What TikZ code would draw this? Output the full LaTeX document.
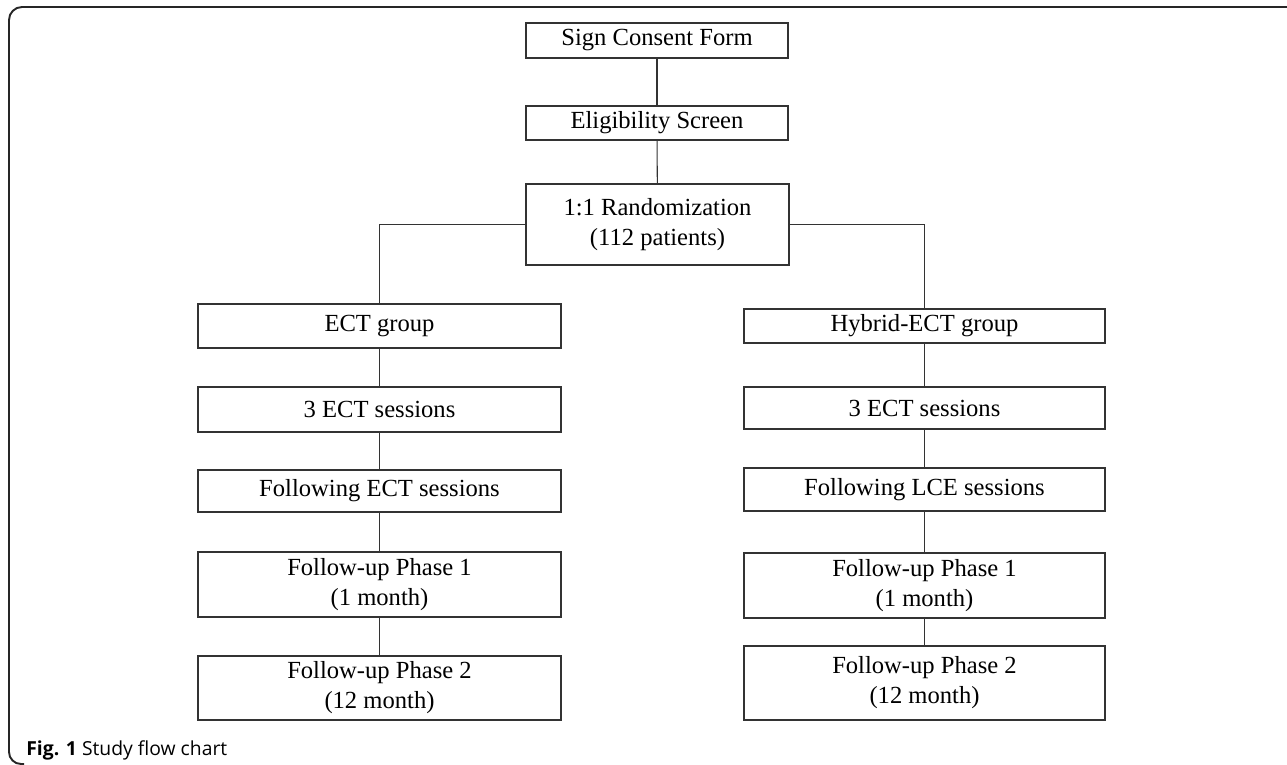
\documentclass[tikz,border=0pt]{standalone}
\usepackage{fontspec}
\setmainfont{Liberation Serif}
\newfontfamily\capfont{Open Sans}
\tikzset{
    flowbox/.style={draw=black!80, line width=0.6pt, align=center, inner sep=0pt,
        font=\fontsize{14}{17}\selectfont},
    leftbox/.style={flowbox, minimum width=363\pxu, minimum height=#1\pxu},
    rightbox/.style={flowbox, minimum width=361\pxu, minimum height=#1\pxu},
    link/.style={black!80, line width=0.6pt}
}
\newlength{\pxu}
\setlength{\pxu}{0.02cm}
\begin{document}
\begin{tikzpicture}[x=0.02cm, y=-0.02cm]
    \useasboundingbox (0,0) rectangle (1287,764);

    % outer frame
    \draw[black!85, line width=1.1pt] (1290,7) -- (22,7) arc (270:180:13) -- (9,752) arc (180:90:12) -- (24,764);

    \node[flowbox, minimum width=262\pxu, minimum height=35\pxu] (consent) at (657,40.5) {Sign Consent Form};
    \node[flowbox, minimum width=262\pxu, minimum height=34\pxu] (elig) at (657,123) {Eligibility Screen};
    \node[flowbox, minimum width=263\pxu, minimum height=81\pxu] (rand) at (657.5,224.5) {1:1 Randomization\\(112 patients)};

    \node[leftbox=44] (ectgrp) at (379.5,326) {ECT group};
    \node[leftbox=45] (ectthree) at (379.5,409.5) {3 ECT sessions};
    \node[leftbox=42] (ectfollow) at (379.5,491) {Following ECT sessions};
    \node[leftbox=65] (ectfuone) at (379.5,584.5) {Follow-up Phase 1\\(1 month)};
    \node[leftbox=64] (ectfutwo) at (379.5,688) {Follow-up Phase 2\\(12 month)};

    \node[rightbox=34] (hybgrp) at (924.5,326) {Hybrid-ECT group};
    \node[rightbox=42] (hybthree) at (924.5,408) {3 ECT sessions};
    \node[rightbox=43] (hybfollow) at (924.5,489.5) {Following LCE sessions};
    \node[rightbox=65] (hybfuone) at (924.5,585.5) {Follow-up Phase 1\\(1 month)};
    \node[rightbox=74] (hybfutwo) at (924.5,683) {Follow-up Phase 2\\(12 month)};

    \draw[link] (consent) -- (elig);
    \draw[link] (elig) -- (rand);
    \draw[link] (rand.west) -| (ectgrp.north);
    \draw[link] (rand.east) -| (hybgrp.north);

    \draw[link] (ectgrp) -- (ectthree);
    \draw[link] (ectthree) -- (ectfollow);
    \draw[link] (ectfollow) -- (ectfuone);
    \draw[link] (ectfuone) -- (ectfutwo);

    \draw[link] (hybgrp) -- (hybthree);
    \draw[link] (hybthree) -- (hybfollow);
    \draw[link] (hybfollow) -- (hybfuone);
    \draw[link] (hybfuone) -- (hybfutwo);

    \node[anchor=base west, inner sep=0pt, font=\capfont\fontsize{11}{13}\selectfont] (caption) at (26,755) {\textbf{Fig. 1} Study flow chart};
\end{tikzpicture}
\end{document}
